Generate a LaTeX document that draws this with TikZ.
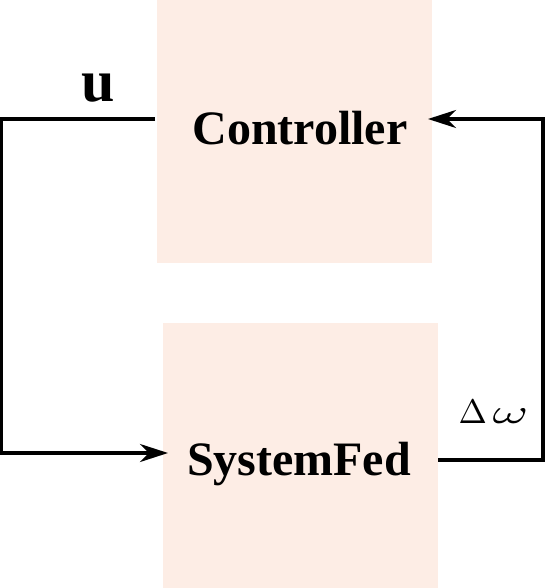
\RequirePackage{fix-cm}
\documentclass[tikz,border=0pt]{standalone}
\usepackage[no-math]{fontspec}
\setmainfont{Liberation Serif}
\usetikzlibrary{arrows.meta,calc}
\definecolor{peach}{RGB}{253,237,229}
\tikzset{
  blockbox/.style={draw=none,fill=peach,inner sep=0pt,outer sep=0pt},
  blocktext/.style={inner sep=0pt,outer sep=0pt,anchor=base,font=\fontsize{48}{50}\selectfont\bfseries},
  wire/.style={line width=3.2pt,line join=miter},
  tip/.style={-{Stealth[length=28pt,width=18pt,inset=9pt]}}
}
\begin{document}
\begin{tikzpicture}[x=1pt,y=-1pt]
\useasboundingbox (0,0) rectangle (546,588);
% blocks
\node[blockbox,minimum width=275pt,minimum height=263pt] (ctrl) at (294.5,131.5) {};
\node[blockbox,minimum width=275pt,minimum height=265pt] (plant) at (300.5,455.5) {};
\node[blocktext] (ctrltxt) at (300,145) {Controller};
\node[blocktext] (planttxt) at (299,475) {SystemFed};
% labels
\node[inner sep=0pt,anchor=base,font=\fontsize{60}{62}\selectfont\bfseries] (ulab) at (98.5,101.5) {u};
\node[inner sep=0pt,anchor=base] (wlab) at (493.5,423.5) {\scalebox{3.4}{$\Delta\mkern3mu\scalebox{1.6}[1]{$\omega$}$}};
% corner coordinates
\coordinate (lc) at (3,0);
\coordinate (rc) at (543,0);
% connectors
\draw[wire,tip] ([yshift=12.5pt,xshift=-2pt]ctrl.west) -- ([yshift=12.5pt,xshift=-2pt]ctrl.west -| lc) |- ([yshift=2.5pt,xshift=5pt]plant.west);
\draw[wire,tip] ([yshift=-4.5pt]plant.east) -- ([yshift=-4.5pt]plant.east -| rc) |- ([yshift=12.5pt,xshift=-4pt]ctrl.east);
\end{tikzpicture}
\end{document}
